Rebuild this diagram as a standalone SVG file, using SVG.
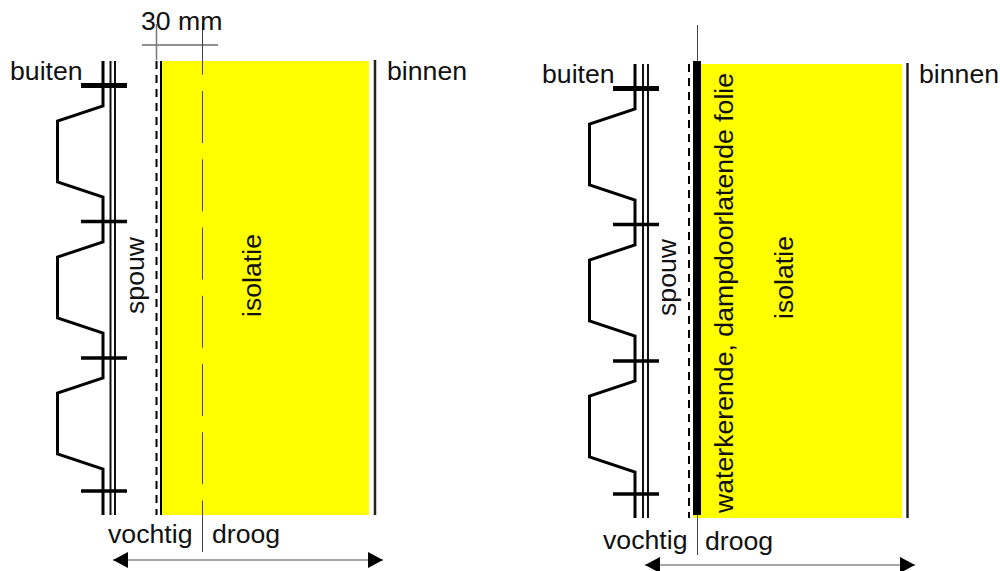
<svg xmlns="http://www.w3.org/2000/svg" width="1000" height="571" viewBox="0 0 1000 571">
<style>
text{font-family:"Liberation Sans",Arial,sans-serif;font-size:26.67px;fill:#111}
.p{fill:none;stroke:#000;stroke-width:3}
.w{fill:none;stroke:#111;stroke-width:2}
.f{stroke:#000;stroke-width:3.500}
.fb{stroke:#000;stroke-width:5}
.d{stroke:#000;stroke-width:2;stroke-dasharray:8 6}
.c{stroke:#444;stroke-width:1}
.a{stroke:#888;stroke-width:1.500;marker-start:url(#as);marker-end:url(#ae)}
</style>
<defs>
<marker id="ae" markerUnits="userSpaceOnUse" markerWidth="16" markerHeight="16" refX="15" refY="8" orient="auto"><path d="M0 0L15 8L0 16Z" fill="#000"/></marker>
<marker id="as" markerUnits="userSpaceOnUse" markerWidth="16" markerHeight="16" refX="0" refY="8" orient="auto"><path d="M15 0L0 8L15 16Z" fill="#000"/></marker>
</defs>
<g id="left-wall">
<rect x="161" y="61" width="208" height="454" fill="#ff0"/>
<path class="p" d="M103 61V106L57.500 121V182L103 197V242L57.500 257V318L103 333V378L57.500 393V454L103 469V515"/>
<path class="w" d="M110.500 61V515M115 61V515"/>
<path class="fb" d="M81 85.500H127"/>
<path class="f" d="M81 221.500H127M81 358H127M81 491H127"/>
<path class="d" d="M156.500 61V515"/>
<path stroke="#000" stroke-width="2" d="M161 61V515"/>
<path stroke="#222" stroke-width="2.500" d="M375 60V515"/>
</g>
<g id="left-dimension">
<path stroke="#222" stroke-width="1" d="M142 45H218"/>
<path stroke="#777" stroke-width="1.500" d="M156.500 24V60"/>
<path stroke="#444" stroke-width="1" stroke-dasharray="52 16.250" fill="none" d="M202.500 22.750V552"/>
</g>
<g id="right-wall">
<rect x="693" y="64" width="209" height="454" fill="#ff0"/>
<path class="p" d="M635 64V109L589.500 124V185L635 200V245L589.500 260V321L635 336V381L589.500 396V457L635 472V518"/>
<path class="w" d="M643 64V518M648 64V518"/>
<path class="fb" d="M613 88.500H659"/>
<path class="f" d="M613 224.500H659M613 361H659M613 494H659"/>
<path class="d" d="M689 64V518"/>
<rect x="693" y="61" width="8" height="454" fill="#000"/>
<path stroke="#222" stroke-width="2.500" d="M907.500 63V518"/>
</g>
<g id="right-dimension">
<path class="c" d="M697.500 25V61M697.500 515V555"/>
</g>
<g id="connectors">
<path class="a" d="M113 560H383"/>
<path class="a" d="M645 565H915"/>
</g>
<g id="labels">
<text x="141" y="30">30 mm</text>
<text x="10" y="80">buiten</text>
<text x="387" y="80">binnen</text>
<text x="108" y="543">vochtig</text>
<text x="212" y="543">droog</text>
<text transform="translate(144,314) rotate(-90)">spouw</text>
<text transform="translate(261,317) rotate(-90)">isolatie</text>
<text x="542" y="83">buiten</text>
<text x="919" y="83">binnen</text>
<text x="603" y="549">vochtig</text>
<text x="705" y="550">droog</text>
<text transform="translate(676,316) rotate(-90)">spouw</text>
<text transform="translate(793,319) rotate(-90)">isolatie</text>
<text transform="translate(733,513) rotate(-90)">waterkerende, dampdoorlatende folie</text>
</g>
</svg>
